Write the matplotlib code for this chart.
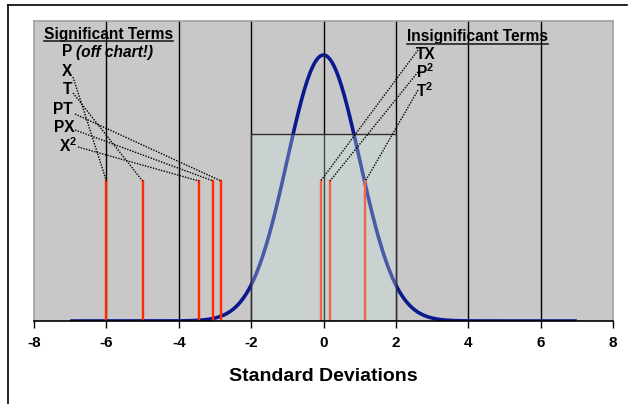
import numpy as np
import matplotlib
matplotlib.use("Agg")
import matplotlib.pyplot as plt
from matplotlib.patches import Rectangle
from matplotlib.lines import Line2D

plt.rcParams['font.family'] = ['Liberation Sans', 'DejaVu Sans']
plt.rcParams['mathtext.fontset'] = 'custom'
plt.rcParams['mathtext.bf'] = 'Liberation Sans:bold'
plt.rcParams['mathtext.rm'] = 'Liberation Sans:bold'

# ---- data ----
sig_labels = ['X', 'T', 'PT', 'PX', r'X$^{\mathbf{2}}$']
sig_values = [-6.0, -5.0, -2.83, -3.05, -3.44]
insig_labels = ['TX', r'P$^{\mathbf{2}}$', r'T$^{\mathbf{2}}$']
insig_values = [-0.08, 0.18, 1.16]
effect_height = 0.21
band_lo, band_hi, band_height = -2.0, 2.0, 0.28
curve_lo, curve_hi = -7.0, 7.0
xticks = [-8, -6, -4, -2, 0, 2, 4, 6, 8]
grid_x = [-6, -4, -2, 0, 2, 4, 6]

W, H = 629, 404
fig = plt.figure(figsize=(W / 100, H / 100), dpi=100)
L, R, T, B = 34, 613, 21, 321
ax = fig.add_axes([L / W, 1 - B / H, (R - L) / W, (B - T) / H])
YMAX = 0.45
ax.set_xlim(-8, 8)
ax.set_ylim(0, YMAX)
ax.set_facecolor('#c8c8c8')

def px2data(px, py):
    return (-8 + (px - L) / (R - L) * 16, (B - py) / (B - T) * YMAX)

# grid lines
for g in grid_x:
    ax.axvline(g, color='black', lw=1.0, zorder=1)

# normal curve
xs = np.linspace(curve_lo, curve_hi, 600)
ys = np.exp(-xs ** 2 / 2) / np.sqrt(2 * np.pi)
ax.plot(xs, ys, color='#0a1a8c', lw=2.6, zorder=3, solid_capstyle='butt')

# effect lines
for v in sig_values + insig_values:
    ax.plot([v, v], [0, effect_height], color='#ff2a00', lw=1.7, zorder=4)

# band rectangle
ax.add_patch(Rectangle((band_lo, 0), band_hi - band_lo, band_height,
                       facecolor=(0.82, 0.90, 0.90, 0.32),
                       edgecolor='#303030', lw=1.0, zorder=5))

# spines
for s in ['top', 'right', 'left']:
    ax.spines[s].set_color('#a0a0a0')
    ax.spines[s].set_linewidth(1.2)
ax.spines['bottom'].set_color('black')
ax.spines['bottom'].set_linewidth(1.2)
ax.spines['bottom'].set_zorder(6)
ax.set_yticks([])
ax.set_xticks(xticks)
ax.set_xticklabels([str(t) for t in xticks], fontsize=11, fontweight='bold')
ax.tick_params(axis='x', direction='out', length=5, width=1.0, pad=6)
ax.set_xlabel('Standard Deviations', fontsize=14, fontweight='bold', labelpad=13)

fs = 11.2
# Significant terms header
hx, hy = px2data(44, 35)
h1 = ax.text(hx, hy, 'Significant Terms', fontsize=fs, fontweight='bold',
             ha='left', va='center', zorder=8)
px_, py_ = px2data(62, 52)
ax.text(px_, py_, 'P', fontsize=fs, fontweight='bold', ha='left', va='center', zorder=8)
px_, py_ = px2data(76, 52)
ax.text(px_, py_, '(off chart!)', fontsize=fs, fontweight='bold', style='italic',
        ha='left', va='center', zorder=8)

sig_text_pos = [(72, 71), (72, 90), (73, 109), (75, 128), (77, 146)]
sig_line_start = [(73, 77), (73, 93), (75, 114), (75, 130), (78, 147)]
for lab, v, tp, ls in zip(sig_labels, sig_values, sig_text_pos, sig_line_start):
    tx, ty = px2data(*tp)
    ax.text(tx, ty, lab, fontsize=fs, fontweight='bold', ha='right', va='center', zorder=8)
    sx, sy = px2data(*ls)
    ax.plot([sx, v], [sy, effect_height], color='black', lw=1.0,
            linestyle=(0, (1, 1)), zorder=7)

hx, hy = px2data(407, 37)
h2 = ax.text(hx, hy, 'Insignificant Terms', fontsize=fs, fontweight='bold',
             ha='left', va='center', zorder=8)
ins_text_pos = [(416, 55), (416, 72), (416, 91)]
ins_line_start = [(418, 50), (418, 72), (418, 90)]
for lab, v, tp, ls in zip(insig_labels, insig_values, ins_text_pos, ins_line_start):
    tx, ty = px2data(*tp)
    ax.text(tx, ty, lab, fontsize=fs, fontweight='bold', ha='left', va='center', zorder=8)
    sx, sy = px2data(*ls)
    ax.plot([sx, v], [sy, effect_height], color='black', lw=1.0,
            linestyle=(0, (1, 1)), zorder=7)

# underline headers
fig.canvas.draw()
rend = fig.canvas.get_renderer()
for h in (h1, h2):
    bb = h.get_window_extent(renderer=rend)
    yb = bb.y0 + 1
    fig.add_artist(Line2D([bb.x0 / W, bb.x1 / W], [yb / H, yb / H],
                          color='#222222', lw=1.2, transform=fig.transFigure))

# figure border (top and left)
fig.add_artist(Line2D([8 / W, 627 / W], [1 - 5 / H, 1 - 5 / H], color='black',
                      lw=1.2, transform=fig.transFigure))
fig.add_artist(Line2D([8 / W, 8 / W], [0, 1 - 5 / H], color='black',
                      lw=1.2, transform=fig.transFigure))

fig.savefig('out.png', dpi=100)
